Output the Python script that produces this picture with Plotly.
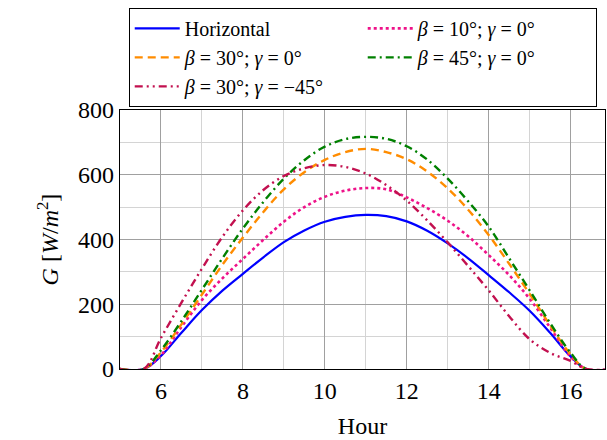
import plotly.graph_objects as go

# Hours of day (x) and irradiance values G [W/m^2]
hours = [5.0, 5.58, 6.0, 6.5, 7.0, 7.5, 8.0, 8.5, 9.0, 9.5, 10.0, 10.5, 11.0,
         11.5, 12.0, 12.5, 13.0, 13.5, 14.0, 14.5, 15.0, 15.5, 16.0, 16.38, 17.0]

g_horizontal = [0, 0, 40, 112, 182, 242, 294, 345, 392, 428, 455, 470, 476,
                472, 456, 427, 388, 342, 290, 237, 180, 112, 39, 0, 0]
g_b10_g0 = [0, 0, 43, 130, 213, 280, 340, 399, 455, 500, 532, 551, 559,
            555, 530, 497, 458, 410, 352, 290, 217, 128, 38, 0, 0]
g_b30_g0 = [0, 0, 52, 138, 230, 322, 406, 485, 555, 608, 646, 670, 680,
            670, 648, 610, 558, 492, 414, 325, 232, 135, 45, 0, 0]
g_b45_g0 = [0, 0, 58, 148, 245, 342, 434, 516, 588, 645, 687, 710, 717,
            711, 688, 647, 588, 518, 440, 342, 243, 142, 50, 0, 0]
g_b30_gm45 = [0, 0, 96, 205, 310, 408, 490, 553, 596, 620, 630, 624, 604,
              568, 520, 459, 391, 318, 243, 163, 92, 50, 25, 0, 0]

series_names = ["Horizontal",
                "<i>β</i> = 10°; <i>γ</i> = 0°",
                "<i>β</i> = 30°; <i>γ</i> = 0°",
                "<i>β</i> = 45°; <i>γ</i> = 0°",
                "<i>β</i> = 30°; <i>γ</i> = −45°"]
series_values = [g_horizontal, g_b10_g0, g_b30_g0, g_b45_g0, g_b30_gm45]
series_colors = ["#0000ff", "#ee1289", "#ff8c00", "#008000", "#c2104f"]
series_dash = ["solid", "dot", "8px,5px", "8px,4px,2px,4px", "8px,4px,2px,4px,2px,4px"]
series_width = [2.2, 2.6, 2.4, 2.4, 2.4]

x_ticks = [6, 8, 10, 12, 14, 16]
y_ticks = [0, 200, 400, 600, 800]

FONT = "Liberation Serif"

fig = go.Figure()
for name, vals, col, dash, w in zip(series_names, series_values, series_colors,
                                    series_dash, series_width):
    fig.add_trace(go.Scatter(
        x=hours, y=vals, mode="lines", name=name,
        line=dict(color=col, dash=dash, width=w, shape="spline", smoothing=1.0),
    ))

fig.update_layout(
    width=607, height=440,
    margin=dict(l=120, r=2, t=110, b=71),
    paper_bgcolor="white", plot_bgcolor="white",
    font=dict(family=FONT, size=22, color="black"),
    showlegend=True,
    legend=dict(
        orientation="h",
        x=0.018, xanchor="left", y=1.012, yanchor="bottom",
        bgcolor="white", bordercolor="black", borderwidth=1,
        font=dict(family=FONT, size=20),
        entrywidth=173, entrywidthmode="pixels",
        itemwidth=45, tracegroupgap=0,
        traceorder="normal",
    ),
    xaxis=dict(
        range=[5, 16.84], tickvals=x_ticks,
        showgrid=True, gridcolor="#a0a0a0", gridwidth=1.2,
        minor=dict(dtick=1, tick0=5, showgrid=True, gridcolor="#d4d4d4", gridwidth=1),
        showline=True, linecolor="black", linewidth=1.3, mirror=True,
        ticks="", zeroline=False,
        tickfont=dict(family=FONT, size=24),
        title=dict(text="Hour", font=dict(family=FONT, size=24), standoff=14),
    ),
    yaxis=dict(
        range=[0, 800], tickvals=y_ticks,
        showgrid=True, gridcolor="#a0a0a0", gridwidth=1.2,
        minor=dict(dtick=100, tick0=0, showgrid=True, gridcolor="#d4d4d4", gridwidth=1),
        showline=True, linecolor="black", linewidth=1.3, mirror=True,
        ticks="", zeroline=False,
        tickfont=dict(family=FONT, size=24),
        title=dict(text="<i>G</i> [<i>W</i>/<i>m</i><sup>2</sup>]",
                   font=dict(family=FONT, size=24), standoff=12),
    ),
)

fig.write_html("out.html")
